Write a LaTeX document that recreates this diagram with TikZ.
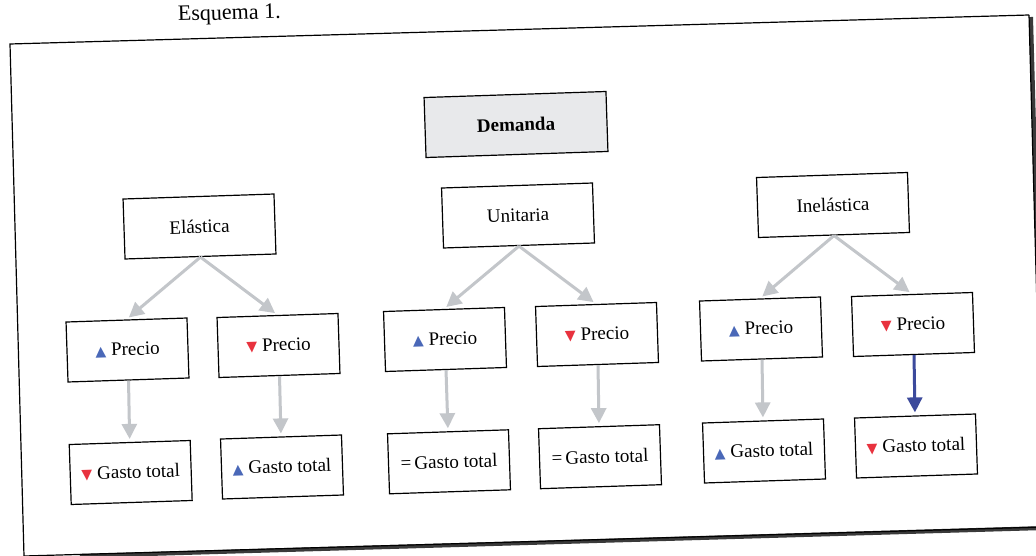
\documentclass[tikz,border=0pt]{standalone}
\usepackage{fontspec}
\setmainfont{Liberation Serif}
\newfontfamily\trifont{DejaVu Sans}
\usetikzlibrary{arrows.meta}
\definecolor{tblue}{HTML}{4A68B8}
\definecolor{tred}{HTML}{E8323E}
\definecolor{agray}{HTML}{C3C6CA}
\definecolor{dblue}{HTML}{3C4A9C}
\definecolor{demfill}{HTML}{E8E9EB}
\definecolor{shadowgray}{HTML}{3A3A3A}
\newcommand\upmark{{\trifont\fontsize{14}{14}\selectfont\textcolor{tblue}{▲}}\hspace{5pt}}
\newcommand\dnmark{{\trifont\fontsize{14}{14}\selectfont\textcolor{tred}{▼}}\hspace{5pt}}
\begin{document}
\begin{tikzpicture}[x=1pt,y=-1pt,
  box/.style={draw=black, line width=1.2pt, minimum width=121pt, minimum height=60pt,
    inner sep=0pt, fill=white, rotate=1.9, font=\fontsize{19}{22}\selectfont},
  catbox/.style={box, minimum width=151pt},
  dembox/.style={box, minimum width=182pt, fill=demfill, font=\fontsize{19}{22}\selectfont\bfseries},
  garrow/.style={draw=agray, line width=3pt, -{Triangle[length=15pt,width=15pt]}, shorten >=3pt},
  barrow/.style={draw=dblue, line width=3pt, -{Triangle[length=15pt,width=15pt]}, shorten >=3pt},
  frameline/.style={draw=black, line width=1.2pt},
  shadowline/.style={draw=shadowgray, line width=4pt}
]
\useasboundingbox (0,0) rectangle (1036,556);
\clip (0,0) rectangle (1036,556);
\fill[white] (0,0) rectangle (1036,556);

% header
\node[anchor=base west, inner sep=0pt, rotate=1.6, font=\fontsize{22}{25}\selectfont] (hdr) at (178,21) {Esquema 1.};

% frame with shadow
\draw[frameline] (24,556) -- (10,44) -- (1029,15);
\draw[shadowline] (1031,17) -- (1045,528);
\draw[shadowline] (1045,528) -- (80,556);
\draw[frameline] (1029,15) -- (1043,527) -- (24,556);

% nodes
\node[dembox] (dem) at (516,124.5) {Demanda};
\node[catbox] (el) at (199.5,226.5) {Elástica};
\node[catbox] (un) at (518,215.5) {Unitaria};
\node[catbox] (in) at (833,205) {Inelástica};

\node[box] (p1) at (127.5,350) {\upmark Precio};
\node[box] (p2) at (278.5,345.5) {\dnmark Precio};
\node[box] (p3) at (445,339.5) {\upmark Precio};
\node[box] (p4) at (597,334.5) {\dnmark Precio};
\node[box] (p5) at (761,329) {\upmark Precio};
\node[box] (p6) at (913,324.5) {\dnmark Precio};

\node[box] (g1) at (130.7,472.5) {\dnmark Gasto total};
\node[box] (g2) at (282,467) {\upmark Gasto total};
\node[box] (g3) at (449,461.8) {=\,Gasto total};
\node[box] (g4) at (600,456.7) {=\,Gasto total};
\node[box] (g5) at (764,451) {\upmark Gasto total};
\node[box] (g6) at (916,446) {\dnmark Gasto total};

% connectors
\draw[garrow] (el.south) -- (p1.north);
\draw[garrow] (el.south) -- (p2.north);
\draw[garrow] (un.south) -- (p3.north);
\draw[garrow] (un.south) -- (p4.north);
\draw[garrow] (in.south) -- (p5.north);
\draw[garrow] (in.south) -- (p6.north);

\draw[garrow] (p1.south) -- (g1.north);
\draw[garrow] (p2.south) -- (g2.north);
\draw[garrow] (p3.south) -- (g3.north);
\draw[garrow] (p4.south) -- (g4.north);
\draw[garrow] (p5.south) -- (g5.north);
\draw[barrow] (p6.south) -- (g6.north);
\end{tikzpicture}
\end{document}
